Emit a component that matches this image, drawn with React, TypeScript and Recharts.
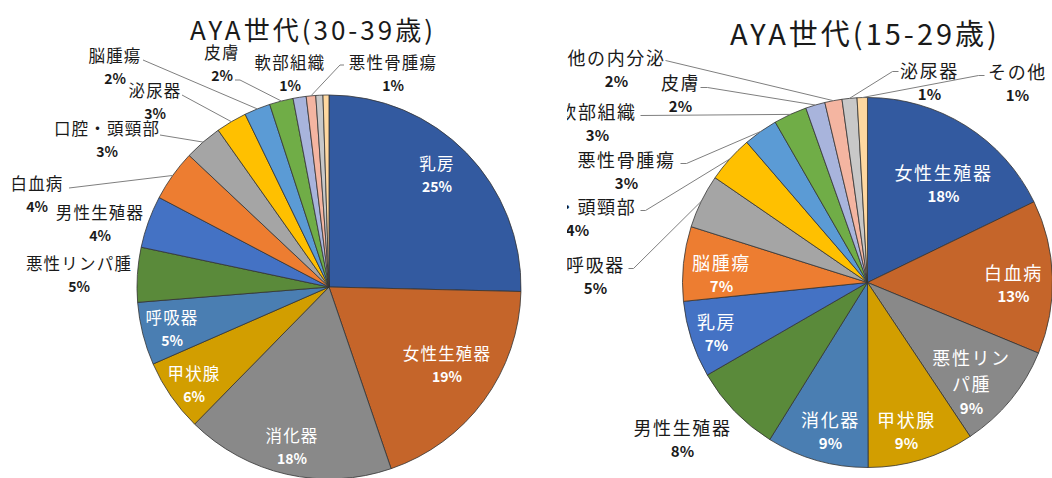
import React from 'react';
import { PieChart, Pie, Cell } from 'recharts';

// ---------- data ----------
const LEFT_TITLE = 'AYA世代(30-39歳)';
const LEFT_NAMES = ['乳房', '女性生殖器', '消化器', '甲状腺', '呼吸器', '悪性リンパ腫', '男性生殖器', '白血病', '口腔・頭頸部', '泌尿器', '脳腫瘍', '皮膚', '軟部組織', '悪性骨腫瘍', 'その他の内分泌', 'その他'];
const LEFT_VALUES = [25.4, 19.4, 17.6, 6.1, 5.3, 4.6, 4.4, 4.3, 3.2, 2.6, 2.2, 2.0, 1.1, 0.8, 0.6, 0.5];

const RIGHT_TITLE = 'AYA世代(15-29歳)';
const RIGHT_NAMES = ['女性生殖器', '白血病', '悪性リンパ腫', '甲状腺', '消化器', '男性生殖器', '乳房', '脳腫瘍', '呼吸器', '口腔・頭頸部', '悪性骨腫瘍', '軟部組織', '皮膚', '他の内分泌', '泌尿器', 'その他'];
const RIGHT_VALUES = [17.8, 13.4, 9.4, 9.3, 8.9, 7.8, 6.7, 6.5, 4.7, 4.1, 3.0, 2.9, 1.7, 1.5, 1.3, 0.9];

const COLORS = ['#335AA0', '#C5652A', '#898989', '#D29E00', '#4A7EB2', '#5A8A3A', '#4472C4', '#ED7D31', '#A5A5A5', '#FFC000', '#5B9BD5', '#70AD47', '#A8B4DC', '#F4B5A1', '#C8C8C8', '#FFD8A0'];

// ---------- label layout (offsets relative to pie centre) ----------
type LabelSpec = { x: number; y: number; inside?: boolean; split?: number; line?: number[][] } | null;

const LEFT_LAYOUT: LabelSpec[] = [
  { x: 108, y: -124, inside: true },
  { x: 118, y: 66, inside: true },
  { x: -37, y: 148, inside: true },
  { x: -135, y: 86, inside: true },
  { x: -157, y: 30, inside: true },
  { x: -250, y: -24 },
  { x: -229, y: -75 },
  { x: -292, y: -104, line: [[-260, -99]] },
  { x: -222, y: -159, line: [[-169, -152]] },
  { x: -174, y: -197, line: [[-147, -192]] },
  { x: -214, y: -232, line: [[-186, -227]] },
  { x: -107, y: -235, line: [[-94, -207], [-89, -207]] },
  { x: -39, y: -225 },
  { x: 64, y: -225, line: [[15, -222], [11, -222]] },
  null,
  null,
];

const RIGHT_LAYOUT: LabelSpec[] = [
  { x: 76, y: -111, inside: true },
  { x: 146, y: -11, inside: true },
  { x: 104, y: 74, inside: true, split: 4 },
  { x: 39, y: 136, inside: true },
  { x: -37, y: 136, inside: true },
  { x: -185, y: 144 },
  { x: -151, y: 38, inside: true },
  { x: -146, y: -21, inside: true },
  { x: -272, y: -19, line: [[-239, -14], [-234, -14]] },
  { x: -290, y: -77, line: [[-227, -72], [-222, -72]] },
  { x: -241, y: -124, line: [[-187, -119], [-181, -119]] },
  { x: -270, y: -172, line: [[-227, -167]] },
  { x: -187, y: -201, line: [[-167, -195], [-160, -195]] },
  { x: -251, y: -226, line: [[-202, -222]] },
  { x: 62, y: -213, line: [[31, -211], [25, -211]] },
  { x: 150, y: -212, line: [[117, -207], [111, -207]] },
];

const RAD = Math.PI / 180;
const FONT = '"Noto Sans CJK JP", "Noto Sans", sans-serif';

type Cfg = { names: string[]; layout: LabelSpec[]; nameSize: number; ls: number; pctSize: number; gap: number };

function makeLabel(cfg: Cfg) {
  return (props: any) => {
    const { cx, cy, midAngle, outerRadius, percent, index } = props;
    const spec = cfg.layout[index];
    if (!spec) return null;
    const name = cfg.names[index];
    const lines: string[] = [];
    if (spec.split) {
      for (let i = 0; i < name.length; i += spec.split) lines.push(name.slice(i, i + spec.split));
    } else lines.push(name);
    const color = spec.inside ? '#FFFFFF' : '#1A1A1A';
    const tx = cx + spec.x;
    const ty = cy + spec.y;
    const pct = `${Math.round(percent * 100)}%`;
    let path: React.ReactNode = null;
    if (spec.line) {
      const px = cx + outerRadius * Math.cos(-midAngle * RAD);
      const py = cy + outerRadius * Math.sin(-midAngle * RAD);
      const pts = spec.line.map((p) => `${cx + p[0]},${cy + p[1]}`).concat(`${px},${py}`).join(' ');
      path = <polyline points={pts} fill="none" stroke="#7F7F7F" strokeWidth={1} />;
    }
    const lineGap = spec.split ? cfg.gap + 3 : cfg.gap;
    return (
      <g key={`lbl-${index}`}>
        {path}
        {lines.map((l, i) => (
          <text key={i} x={tx} y={ty + i * lineGap} textAnchor="middle" dominantBaseline="central" fill={color}
            fontFamily={FONT} fontSize={cfg.nameSize} letterSpacing={cfg.ls}>{l}</text>
        ))}
        <text x={tx} y={ty + (lines.length - 1) * lineGap + cfg.gap + (spec.split ? 1 : 0)} textAnchor="middle" dominantBaseline="central" fill={color}
          fontFamily={FONT} fontSize={cfg.pctSize} fontWeight={700}>{pct}</text>
      </g>
    );
  };
}

const leftData = LEFT_NAMES.map((name, i) => ({ name, value: LEFT_VALUES[i] }));
const rightData = RIGHT_NAMES.map((name, i) => ({ name, value: RIGHT_VALUES[i] }));

const leftLabel = makeLabel({ names: LEFT_NAMES, layout: LEFT_LAYOUT, nameSize: 16.5, ls: 1.2, pctSize: 14, gap: 23.3 });
const rightLabel = makeLabel({ names: RIGHT_NAMES, layout: RIGHT_LAYOUT, nameSize: 18, ls: 1.6, pctSize: 15, gap: 23.5 });

export default function App() {
  return (
    <div style={{ position: 'absolute', left: 0, top: 0, width: 1052, height: 478, overflow: 'hidden', background: '#FFFFFF' }}>
      <div style={{ position: 'absolute', left: 0, top: 0 }}>
        <PieChart width={545} height={478} margin={{ top: 0, right: 0, bottom: 0, left: 0 }}>
          <Pie data={leftData} dataKey="value" nameKey="name" cx={329} cy={287} outerRadius={192}
            startAngle={90} endAngle={-270} stroke="#333333" strokeWidth={0.8}
            isAnimationActive={false} labelLine={false} label={leftLabel}>
            {leftData.map((_, i) => <Cell key={i} fill={COLORS[i % COLORS.length]} />)}
          </Pie>
        </PieChart>
      </div>
      <div style={{ position: 'absolute', left: 567, top: 0 }}>
        <PieChart width={485} height={478} margin={{ top: 0, right: 0, bottom: 0, left: 0 }}>
          <Pie data={rightData} dataKey="value" nameKey="name" cx={300.5} cy={282.5} outerRadius={185}
            startAngle={90} endAngle={-270} stroke="#333333" strokeWidth={0.8}
            isAnimationActive={false} labelLine={false} label={rightLabel}>
            {rightData.map((_, i) => <Cell key={i} fill={COLORS[i % COLORS.length]} />)}
          </Pie>
        </PieChart>
      </div>
      <svg width={1052} height={478} style={{ position: 'absolute', left: 0, top: 0, pointerEvents: 'none' }}>
        <text x={313} y={28} textAnchor="middle" dominantBaseline="central" fontFamily={FONT} fontSize={26} letterSpacing={3} fill="#1A1A1A">{LEFT_TITLE}</text>
        <text x={865} y={32} textAnchor="middle" dominantBaseline="central" fontFamily={FONT} fontSize={29} letterSpacing={3} fill="#1A1A1A">{RIGHT_TITLE}</text>
      </svg>
    </div>
  );
}
